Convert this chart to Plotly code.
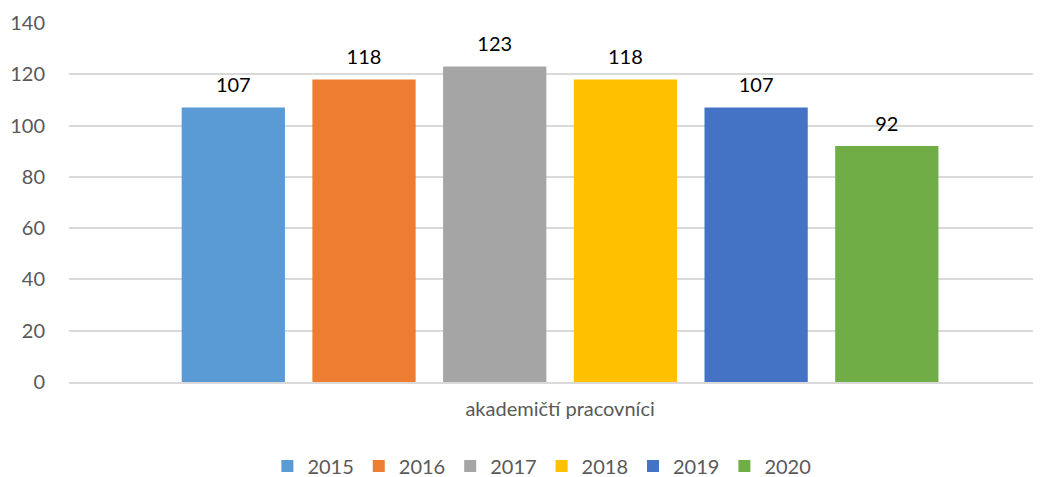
import plotly.graph_objects as go

category = ["akademičtí pracovníci"]
years = ["2015", "2016", "2017", "2018", "2019", "2020"]
values = [107, 118, 123, 118, 107, 92]
colors = ["#5B9BD5", "#ED7D31", "#A5A5A5", "#FFC000", "#4472C4", "#70AD47"]

font_name = "Lato, Open Sans, sans-serif"

fig = go.Figure()
for year, val, col in zip(years, values, colors):
    fig.add_trace(go.Bar(
        x=category, y=[val], name=year,
        marker=dict(color=col, line=dict(width=0)),
        texttemplate="<span style='font-size:20px'>%{y}</span><br> ",
        textposition="outside",
        textfont=dict(color="#000000", size=8, family=font_name),
        cliponaxis=False,
        hoverinfo="skip",
    ))

# page body adds an 8px margin, so the figure is a bit smaller than the window
fig.update_layout(
    width=1033, height=469,
    margin=dict(l=61, r=1, t=15, b=95, autoexpand=False),
    paper_bgcolor="white", plot_bgcolor="white",
    barmode="group", bargap=0.183, bargroupgap=0.21,
    font=dict(family=font_name, size=20, color="#595959"),
    showlegend=True,
    legend=dict(
        orientation="h",
        x=0.487, xanchor="center", y=-0.234, yanchor="middle",
        font=dict(size=20, color="#595959"),
        itemwidth=30, traceorder="normal",
    ),
)

fig.update_yaxes(
    range=[0, 140], dtick=20, showgrid=True, gridcolor="#D9D9D9", gridwidth=1.5,
    zeroline=False, showline=False, ticks="", ticklabelstandoff=23,
)
fig.update_xaxes(
    range=[-0.5116, 0.5],
    showline=True, linecolor="#D9D9D9", linewidth=1.5, ticks="",
    ticklabelstandoff=8,
)

fig.write_html("out.html")
